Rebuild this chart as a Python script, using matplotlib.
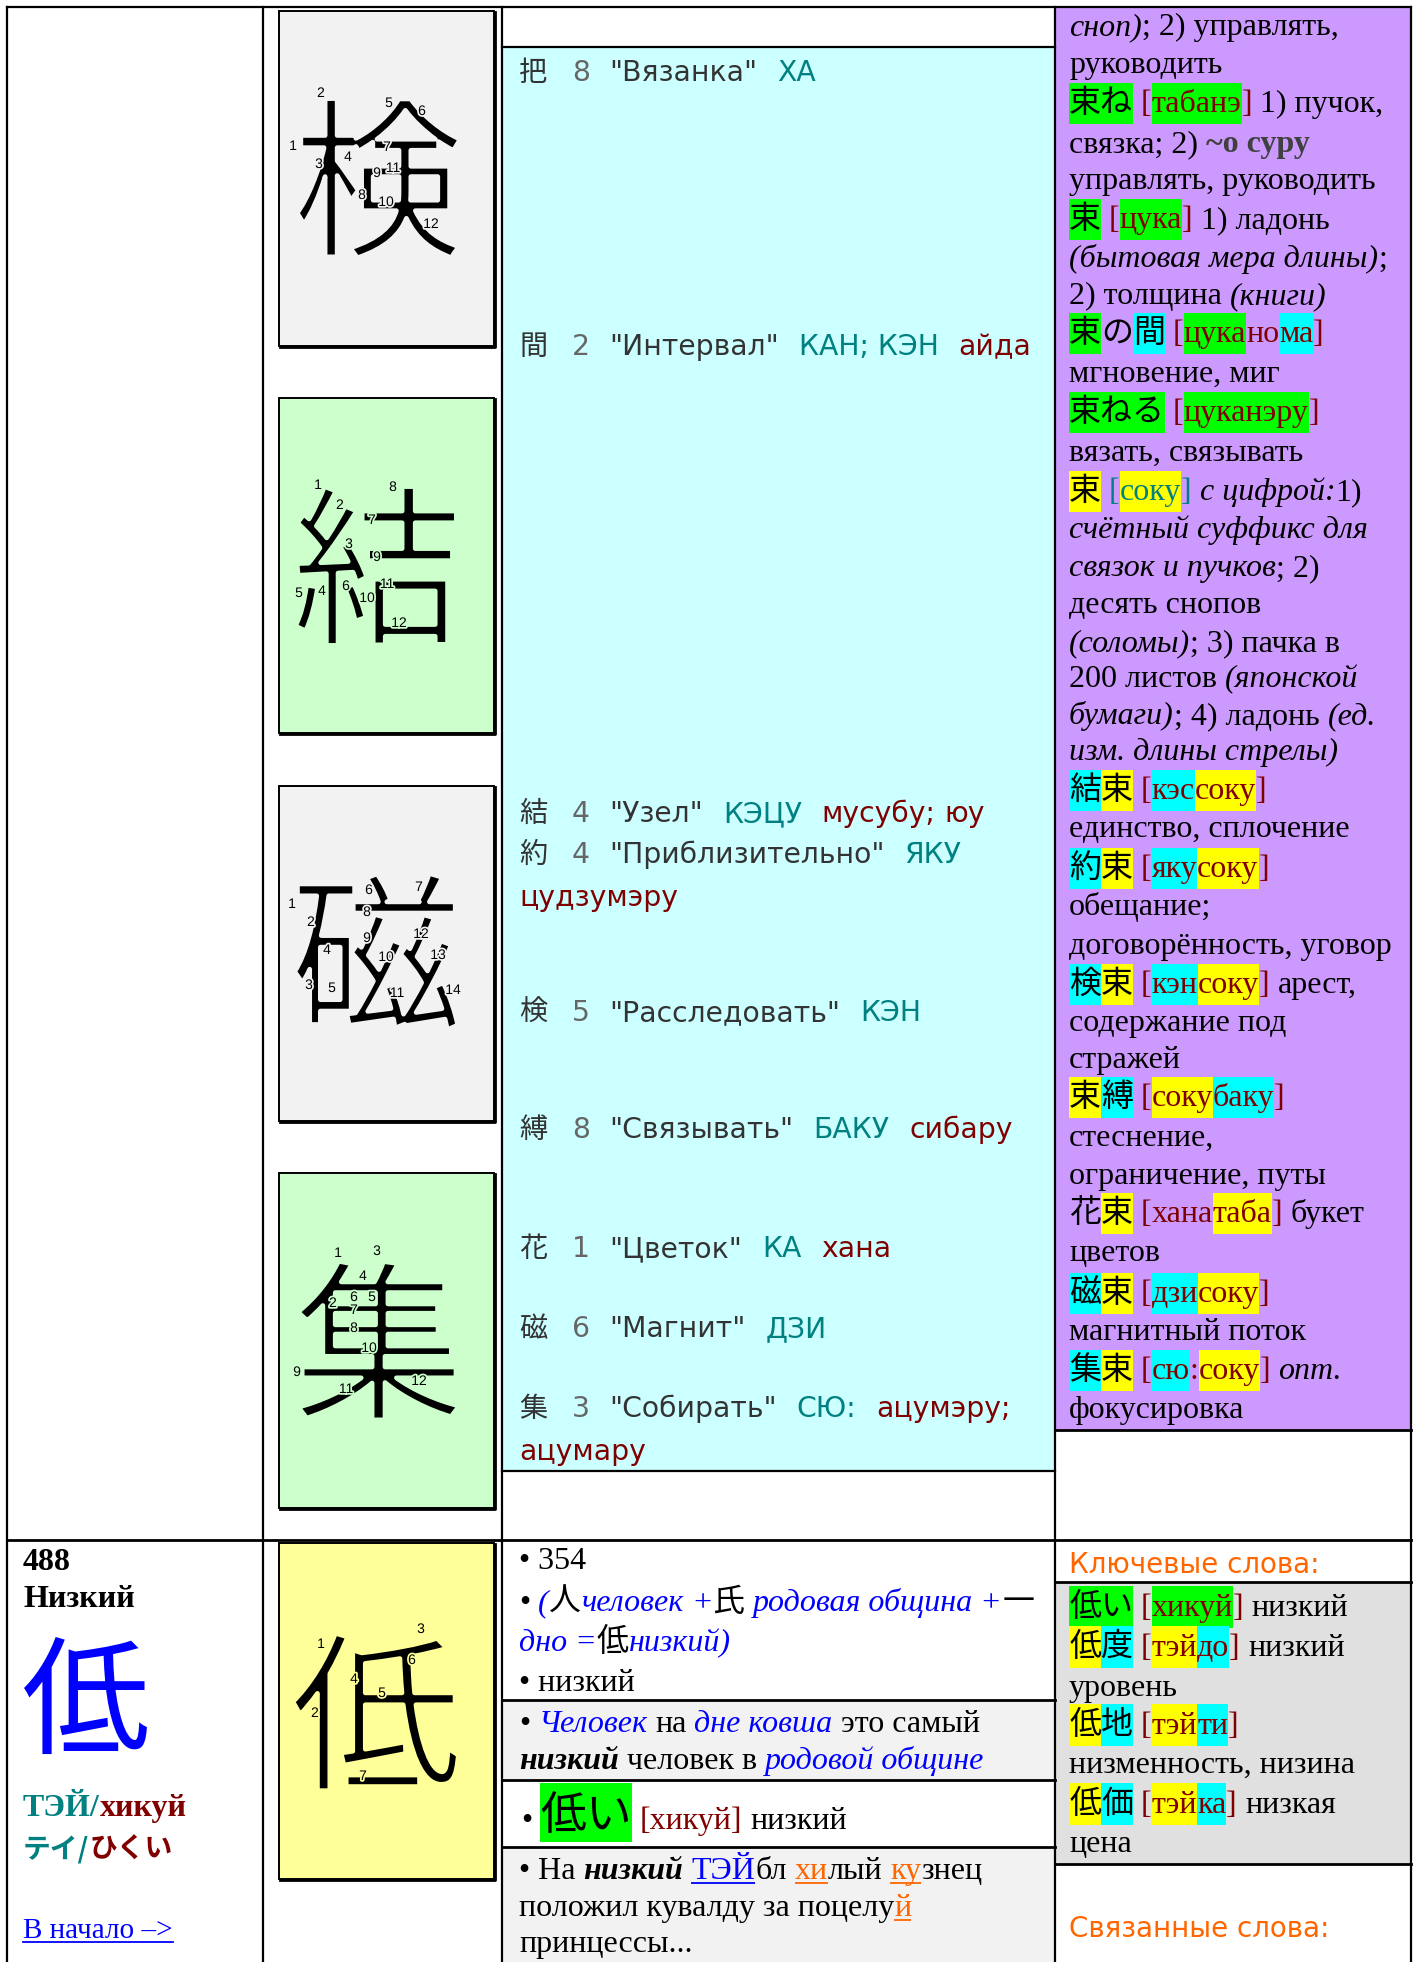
import matplotlib
matplotlib.use('Agg')
import matplotlib.pyplot as plt
from matplotlib.patches import Rectangle
import matplotlib.patheffects as pe

# ---------------- data ----------------
stroke_kanji = ['検', '結', '磁', '集']
stroke_counts = [12, 12, 14, 12]
main_kanji = '低'
main_strokes = 7
kanji_number = '488'
kanji_meaning = 'Низкий'
on_reading, kun_reading = 'ТЭЙ', 'хикуй'
on_kana, kun_kana = 'テイ', 'ひくい'
link_text = 'В начало –>'

comp_kanji = ['把', '間', '結', '約', '検', '縛', '花', '磁', '集']
comp_strokes = ['8', '2', '4', '4', '5', '8', '1', '6', '3']
comp_meaning = ['"Вязанка"', '"Интервал"', '"Узел"', '"Приблизительно"', '"Расследовать"',
                '"Связывать"', '"Цветок"', '"Магнит"', '"Собирать"']
comp_on = ['ХА', 'КАН; КЭН', 'КЭЦУ', 'ЯКУ', 'КЭН', 'БАКУ', 'КА', 'ДЗИ', 'СЮ:']
comp_kun = [[], ['айда'], ['мусубу;', 'юу'], ['цудзумэру'], [], ['сибару'], ['хана'], [],
            ['ацумэру;', 'ацумару']]

G, Y, C = '#00ff00', '#ffff00', '#00ffff'
purple_lines = [
    [('сноп)', 'i'), ('; 2) управлять,', 'n')],
    [('руководить', 'n')],
    [('束ね', 'k', G), (' ', 'n'), ('[', 'r'), ('табанэ', 'r', G), (']', 'r'), (' 1) пучок,', 'n')],
    [('связка; 2) ', 'n'), ('~о суру', 'b')],
    [('управлять, руководить', 'n')],
    [('束', 'k', G), (' ', 'n'), ('[', 'r'), ('цука', 'r', G), (']', 'r'), (' 1) ладонь', 'n')],
    [('(бытовая мера длины)', 'i'), (';', 'n')],
    [('2) толщина ', 'n'), ('(книги)', 'i')],
    [('束', 'k', G), ('の', 'k'), ('間', 'k', C), (' ', 'n'), ('[', 'r'), ('цука', 'r', G), ('но', 'r'),
     ('ма', 'r', C), (']', 'r')],
    [('мгновение, миг', 'n')],
    [('束ねる', 'k', G), (' ', 'n'), ('[', 'r'), ('цуканэру', 'r', G), (']', 'r')],
    [('вязать, связывать', 'n')],
    [('束', 'k', Y), (' ', 'n'), ('[', 't'), ('соку', 't', Y), (']', 't'), (' ', 'n'), ('с цифрой:', 'i'),
     ('1)', 'n')],
    [('счётный суффикс для', 'i')],
    [('связок и пучков', 'i'), ('; 2)', 'n')],
    [('десять снопов', 'n')],
    [('(соломы)', 'i'), ('; 3) пачка в', 'n')],
    [('200 листов ', 'n'), ('(японской', 'i')],
    [('бумаги)', 'i'), ('; 4) ладонь ', 'n'), ('(ед.', 'i')],
    [('изм. длины стрелы)', 'i')],
    [('結', 'k', C), ('束', 'k', Y), (' ', 'n'), ('[', 'r'), ('кэс', 'r', C), ('соку', 'r', Y), (']', 'r')],
    [('единство, сплочение', 'n')],
    [('約', 'k', C), ('束', 'k', Y), (' ', 'n'), ('[', 'r'), ('яку', 'r', C), ('соку', 'r', Y), (']', 'r')],
    [('обещание;', 'n')],
    [('договорённость, уговор', 'n')],
    [('検', 'k', C), ('束', 'k', Y), (' ', 'n'), ('[', 'r'), ('кэн', 'r', C), ('соку', 'r', Y), (']', 'r'),
     (' арест,', 'n')],
    [('содержание под', 'n')],
    [('стражей', 'n')],
    [('束', 'k', Y), ('縛', 'k', C), (' ', 'n'), ('[', 'r'), ('соку', 'r', Y), ('баку', 'r', C), (']', 'r')],
    [('стеснение,', 'n')],
    [('ограничение, путы', 'n')],
    [('花', 'k'), ('束', 'k', Y), (' ', 'n'), ('[', 'r'), ('хана', 'r'), ('таба', 'r', Y), (']', 'r'),
     (' букет', 'n')],
    [('цветов', 'n')],
    [('磁', 'k', C), ('束', 'k', Y), (' ', 'n'), ('[', 'r'), ('дзи', 'r', C), ('соку', 'r', Y), (']', 'r')],
    [('магнитный поток', 'n')],
    [('集', 'k', C), ('束', 'k', Y), (' ', 'n'), ('[', 'r'), ('сю', 'r', C), (':', 'r'), ('соку', 'r', Y),
     (']', 'r'), (' ', 'n'), ('опт.', 'i')],
    [('фокусировка', 'n')],
]

analysis_lines = [
    [('• 354', 'n')],
    [('• ', 'n'), ('(', 'bl'), ('人', 'k'), ('человек', 'bl'), (' +', 'bl'), ('氏', 'k'),
     (' родовая община +', 'bl'), ('一', 'k')],
    [('дно =', 'bl'), ('低', 'k'), ('низкий)', 'bl')],
    [('• низкий', 'n')],
]
story_lines = [
    [('• ', 'n'), ('Человек', 'bl'), (' на ', 'n'), ('дне ковша', 'bl'), (' это самый', 'n')],
    [('низкий', 'bi'), (' человек в ', 'n'), ('родовой общине', 'bl')],
]
word_line = [('• ', 'n'), ('低い', 'kbig', G), (' ', 'n'), ('[хикуй]', 'r'), (' низкий', 'n')]
mnemonic_lines = [
    [('• На ', 'n'), ('низкий', 'bi'), (' ', 'n'), ('ТЭЙ', 'ub'), ('бл ', 'n'), ('хи', 'uo'),
     ('лый ', 'n'), ('ку', 'uo'), ('знец', 'n')],
    [('положил кувалду за поцелу', 'n'), ('й', 'uo')],
    [('принцессы...', 'n')],
]
keyword_title = 'Ключевые слова:'
related_title = 'Связанные слова:'
keyword_lines = [
    [('低い', 'k', G), (' ', 'n'), ('[', 'r'), ('хикуй', 'r', G), (']', 'r'), (' низкий', 'n')],
    [('低', 'k', Y), ('度', 'k', C), (' ', 'n'), ('[', 'r'), ('тэй', 'r', Y), ('до', 'r', C), (']', 'r'),
     (' низкий', 'n')],
    [('уровень', 'n')],
    [('低', 'k', Y), ('地', 'k', C), (' ', 'n'), ('[', 'r'), ('тэй', 'r', Y), ('ти', 'r', C), (']', 'r')],
    [('низменность, низина', 'n')],
    [('低', 'k', Y), ('価', 'k', C), (' ', 'n'), ('[', 'r'), ('тэй', 'r', Y), ('ка', 'r', C), (']', 'r'),
     (' низкая', 'n')],
    [('цена', 'n')],
]

# ---------------- layout / style ----------------
W, H = 1415, 1962
fig = plt.figure(figsize=(W / 100, H / 100), dpi=100)
ax = fig.add_axes([0, 0, 1, 1])
ax.set_xlim(0, W)
ax.set_ylim(H, 0)
ax.axis('off')
renderer = fig.canvas.get_renderer()

SERIF = ['Liberation Serif', 'Noto Sans CJK JP']
SANS = ['DejaVu Sans', 'Noto Sans CJK JP']
CJK = ['Noto Sans CJK JP', 'DejaVu Sans']
TEAL, DRED, BLUE, ORANGE = '#008080', '#800000', '#0000ff', '#ff6600'

STY = {
    'n': dict(family=SERIF, color='black'),
    'i': dict(family=SERIF, color='black', style='italic'),
    'b': dict(family=SERIF, color='#404040', weight='bold'),
    'r': dict(family=SERIF, color=DRED),
    't': dict(family=SERIF, color=TEAL),
    'k': dict(family=CJK, color='black'),
    'kbig': dict(family=CJK, color='black', fontsize=33),
    'bl': dict(family=SERIF, color=BLUE, style='italic'),
    'bi': dict(family=SERIF, color='black', style='italic', weight='bold'),
    'ub': dict(family=SERIF, color=BLUE, ul=True),
    'uo': dict(family=SERIF, color=ORANGE, ul=True),
}

_cache = {}


def measure(s, p):
    if s == '':
        return 0.0
    key = (s, tuple(sorted((k, str(v)) for k, v in p.items())))
    if key in _cache:
        return _cache[key]
    t1 = ax.text(0, 0, '|' + s + '|', **p)
    t2 = ax.text(0, 0, '||', **p)
    w = t1.get_window_extent(renderer).width - t2.get_window_extent(renderer).width
    t1.remove()
    t2.remove()
    _cache[key] = w
    return w


def draw_runs(x, base, runs, size, box):
    for run in runs:
        text, sty = run[0], run[1]
        bg = run[2] if len(run) > 2 else None
        p = dict(STY[sty])
        ul = p.pop('ul', False)
        p.setdefault('fontsize', size)
        w = measure(text, p)
        if bg:
            ax.add_patch(Rectangle((x, box[0]), w, box[1] - box[0], fc=bg, ec='none', zorder=2))
        core = text.strip()
        if core:
            lead = text[:len(text) - len(text.lstrip())]
            x0 = x + measure(lead, p)
            ax.text(x0, base, core, ha='left', va='baseline', zorder=3, **p)
            if ul:
                ax.plot([x0, x0 + measure(core, p)], [base + 4, base + 4], color=p['color'],
                        lw=1.3, zorder=3, solid_capstyle='butt')
        x += w
    return x


LW = 1.6
X0, X1, X2, X3, X4 = 7, 263, 502, 1055, 1411
Y0, YR, YB = 7, 1540, 1962

# backgrounds
ax.add_patch(Rectangle((X2, 47), X3 - X2, 1471 - 47, fc='#ccffff', ec='none', zorder=0))
ax.add_patch(Rectangle((X3, Y0), X4 - X3, 1430 - Y0, fc='#cc99ff', ec='none', zorder=0))
ax.add_patch(Rectangle((X2, 1700), X3 - X2, 80, fc='#f2f2f2', ec='none', zorder=0))
ax.add_patch(Rectangle((X2, 1847), X3 - X2, YB - 1847, fc='#f2f2f2', ec='none', zorder=0))
ax.add_patch(Rectangle((X3, 1582), X4 - X3, 1864 - 1582, fc='#e0e0e0', ec='none', zorder=0))


def hline(y, xa, xb, lw=LW):
    ax.plot([xa, xb], [y, y], color='black', lw=lw, zorder=5, solid_capstyle='projecting')


def vline(x, ya, yb, lw=LW):
    ax.plot([x, x], [ya, yb], color='black', lw=lw, zorder=5, solid_capstyle='projecting')


for xv in (X0, X1, X2, X3, X4):
    vline(xv, Y0, YB)
hline(Y0, X0, X4)
hline(YR, X0, X4, 2.0)
hline(47, X2, X3)
hline(1471, X2, X3)
hline(1430, X3, X4, 2.0)
for yv in (1700, 1780, 1847):
    hline(yv, X2, X3, 2.0)
hline(1582, X3, X4, 2.0)
hline(1864, X3, X4, 2.0)

# stroke order boxes
box_tops = [11, 398, 786, 1173]
box_colors = ['#f2f2f2', '#ccffcc', '#f2f2f2', '#ccffcc']
glyph_centers = [(378, 194), (377, 582), (376, 968), (379, 1357)]
num_pos = [
    [(293, 146), (321, 93), (319, 164), (348, 157), (389, 103), (422, 111), (387, 147), (362, 195),
     (377, 173), (386, 202), (393, 168), (431, 224)],
    [(318, 485), (340, 505), (349, 544), (322, 591), (299, 593), (346, 586), (372, 520), (393, 487),
     (377, 557), (367, 598), (387, 584), (399, 623)],
    [(292, 904), (311, 922), (309, 985), (327, 950), (332, 988), (369, 890), (419, 887), (367, 912),
     (367, 938), (386, 957), (397, 993), (421, 934), (438, 955), (453, 990)],
    [(338, 1253), (333, 1303), (377, 1251), (363, 1276), (372, 1297), (354, 1297), (354, 1310),
     (354, 1328), (297, 1372), (369, 1348), (346, 1389), (419, 1381)],
]


def stroke_glyph(ch, center, bg):
    ax.text(center[0], center[1], ch, family=CJK, fontsize=124, color='black',
            ha='center', va='center', zorder=5,
            path_effects=[pe.Stroke(linewidth=3.4, foreground=bg)])


def stroke_box(top, color, ch, center, nums, n, height=335):
    bx, bw = 279, 215
    ax.add_patch(Rectangle((bx, top), bw, height, fc=color, ec='black', lw=1.4, zorder=4))
    ax.plot([bx + 1, bx + bw + 1, bx + bw + 1], [top + height + 1, top + height + 1, top + 1],
            color='black', lw=2.0, zorder=4)
    stroke_glyph(ch, center, color)
    for i in range(n):
        ax.text(nums[i][0], nums[i][1], str(i + 1), family=['Liberation Sans'], fontsize=10,
                color='black', ha='center', va='center', zorder=6,
                path_effects=[pe.withStroke(linewidth=2.5, foreground=color)])


for k in range(4):
    stroke_box(box_tops[k], box_colors[k], stroke_kanji[k], glyph_centers[k], num_pos[k], stroke_counts[k])

main_nums = [(321, 1644), (315, 1713), (421, 1629), (354, 1679), (382, 1693), (412, 1660), (363, 1776)]
stroke_box(1543, '#ffff99', main_kanji, (376, 1728), main_nums, main_strokes, height=336)

# components (cyan column)
comp_y = [71, 345, 812, 853, 1011, 1128, 1247, 1327, 1407]
CFS = 20.3
cp = dict(family=SANS, fontsize=CFS)
for i in range(len(comp_kanji)):
    b = comp_y[i] + 10
    ax.text(519, b, comp_kanji[i], family=CJK, fontsize=CFS, color='#333333', ha='left', va='baseline',
            zorder=3)
    ax.text(572, b, comp_strokes[i], color='#666666', ha='left', va='baseline', zorder=3, **cp)
    x = 609
    ax.text(x, b, comp_meaning[i], color='#333333', ha='left', va='baseline', zorder=3, **cp)
    x += measure(comp_meaning[i], cp) + 20
    ax.text(x, b, comp_on[i], color=TEAL, ha='left', va='baseline', zorder=3, **cp)
    x += measure(comp_on[i], cp) + 20
    for j, word in enumerate(comp_kun[i]):
        wv = measure(word, cp)
        if x + wv > 1045:
            x = 519
            b += 43
        ax.text(x, b, word, color=DRED, ha='left', va='baseline', zorder=3, **cp)
        x += wv + measure(' ', cp)

# purple column
PFS = 23
purple_y = [27, 65, 104, 144, 181, 220, 259, 296, 334, 374, 413, 453, 492, 530, 568, 605, 643, 679,
            716, 752, 791, 829, 869, 907, 946, 985, 1023, 1060, 1098, 1138, 1176, 1214, 1253, 1294,
            1332, 1371, 1410]
for yc, runs in zip(purple_y, purple_lines):
    draw_runs(1069, yc + 8, runs, PFS, (yc - 21, yc + 20))

# left column, row 2
ax.text(23, 1570, kanji_number, family=SERIF, fontsize=23, weight='bold', ha='left', va='baseline')
ax.text(23, 1607, kanji_meaning, family=SERIF, fontsize=23, weight='bold', ha='left', va='baseline')
ax.text(86, 1708, main_kanji, family=CJK, fontsize=92, color=BLUE, ha='center', va='center')
p1 = dict(family=SERIF, fontsize=23, weight='bold')
ax.text(23, 1816, on_reading + '/', color=TEAL, ha='left', va='baseline', **p1)
ax.text(23 + measure(on_reading + '/', p1), 1816, kun_reading, color=DRED, ha='left', va='baseline', **p1)
p2 = dict(family=CJK, fontsize=20, weight='bold')
ax.text(23, 1858, on_kana + '/', color=TEAL, ha='left', va='baseline', **p2)
ax.text(23 + measure(on_kana + '/', p2), 1858, kun_kana, color=DRED, ha='left', va='baseline', **p2)
p3 = dict(family=SERIF, fontsize=21)
ax.text(23, 1938, link_text, color=BLUE, ha='left', va='baseline', **p3)
ax.plot([23, 23 + measure(link_text, p3)], [1942, 1942], color=BLUE, lw=1.3)

# column 3, row 2
RFS = 23
for yc, runs in zip([1560, 1602, 1642, 1682], analysis_lines):
    draw_runs(519, yc + 9, runs, RFS, None)
for yc, runs in zip([1723, 1760], story_lines):
    draw_runs(519, yc + 9, runs, RFS, None)
draw_runs(521, 1829, word_line, RFS, (1783, 1842))
for yc, runs in zip([1870, 1907, 1943], mnemonic_lines):
    draw_runs(519, yc + 9, runs, RFS, None)

# column 4, row 2
ax.text(1069, 1573, keyword_title, family=SANS, fontsize=20, color=ORANGE, ha='left', va='baseline')
for yc, runs in zip([1608, 1648, 1688, 1726, 1765, 1805, 1844], keyword_lines):
    draw_runs(1069, yc + 8, runs, PFS, (yc - 22, yc + 20))
ax.text(1069, 1937, related_title, family=SANS, fontsize=20, color=ORANGE, ha='left', va='baseline')

fig.savefig('out.png', dpi=100, facecolor='white')
